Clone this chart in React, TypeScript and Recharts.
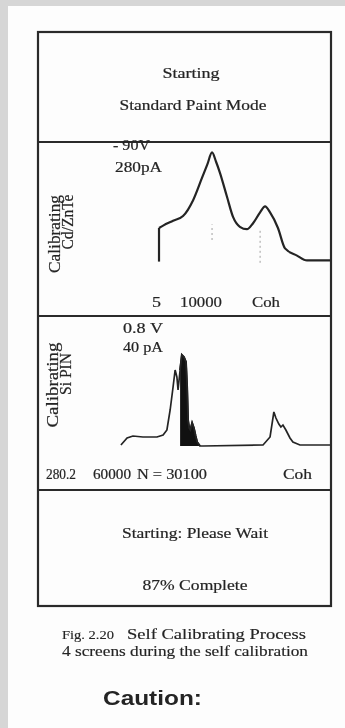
import React from "react";
import { LineChart, ComposedChart, Line, Area, XAxis, YAxis, ReferenceLine } from "recharts";

// Screen 2: Cd/ZnTe calibration spectrum
const cdStepChannels = [413, 413];
const cdStepCounts = [7, 35];
const cdChannels = [413, 427, 461, 495, 529, 560, 578, 594, 608, 621, 645, 666, 689, 713, 734, 758, 775, 792, 819, 843, 884, 918, 1000];
const cdCounts = [35, 37, 41, 45, 58, 77, 88, 98, 90, 81, 61, 44, 36, 34, 39, 48, 53, 48, 35, 18, 12, 8, 8];
const cdPeakChannels = [594, 758];
const cdPeakMarkerLow = [25, 6];
const cdPeakMarkerHigh = [38, 33];
const cdLabels = ["5", "10000", "Coh"];
const cdReadout = ["- 90V", "280pA"];

// Screen 3: Si PIN calibration spectrum
const siChannels = [283, 304, 324, 358, 406, 427, 440, 451, 461, 468, 474, 478, 485, 491, 498, 505, 509, 512, 516, 520, 526, 532, 538, 543, 553, 563, 768, 792, 805, 812, 822, 829, 836, 846, 860, 870, 894, 1000];
const siCounts = [5, 12, 14, 13, 13, 15, 20, 40, 63, 80, 73, 60, 80, 95, 93, 88, 62, 30, 22, 20, 27, 22, 14, 8, 4, 4, 5, 13, 38, 32, 26, 23, 25, 20, 12, 8, 5, 5];
const siDenseChannels = [485, 491, 498, 505, 509, 512, 516, 520, 526, 532, 538, 543, 553];
const siLabels = ["280.2", "60000", "N = 30100", "Coh"];
const siReadout = ["0.8 V", "40 pA"];

const screenTitles = ["Starting", "Standard Paint Mode"];
const waitTexts = ["Starting: Please Wait", "87% Complete"];
const captionFig = "Fig. 2.20";
const captionTitle = "Self Calibrating Process";
const captionSub = "4 screens during the self calibration";
const cautionText = "Caution:";

const cdStepData = cdStepChannels.map((ch, i) => ({ ch, v: cdStepCounts[i] }));
const cdData = cdChannels.map((ch, i) => ({ ch, v: cdCounts[i] }));
const siData = siChannels.map((ch, i) => ({
  ch,
  spec: siCounts[i],
  dense: siDenseChannels.includes(ch) ? siCounts[i] : undefined,
}));

const SERIF = "'Liberation Serif', 'Times New Roman', serif";
const SANS = "'Liberation Sans', Arial, sans-serif";
const INK = "#242424";

type TP = {
  x: number;
  y: number;
  w: number;
  size: number;
  text: string;
  anchor?: "start" | "middle" | "end";
  rot?: boolean;
  weight?: number | string;
  family?: string;
  heavy?: number;
};

function T({ x, y, w, size, text, anchor = "start", rot, weight = 400, family = SERIF, heavy = 0.2 }: TP) {
  const common = {
    fontSize: size,
    fontFamily: family,
    fontWeight: weight,
    fill: INK,
    stroke: INK,
    strokeWidth: heavy,
    textLength: w,
    lengthAdjust: "spacingAndGlyphs" as const,
  };
  if (rot) {
    return (
      <text
        transform={`translate(${x},${y}) rotate(-90)`}
        x={0}
        y={0}
        textAnchor="middle"
        dominantBaseline="central"
        {...common}
      >
        {text}
      </text>
    );
  }
  return (
    <text x={x} y={y} textAnchor={anchor} {...common}>
      {text}
    </text>
  );
}

export default function App() {
  return (
    <div
      style={{
        position: "fixed",
        left: 0,
        top: 0,
        width: 345,
        height: 728,
        background: "#d6d6d6",
        overflow: "hidden",
        filter: "blur(0.4px)",
      }}
    >
      <div style={{ position: "absolute", left: 8, top: 6, width: 337, height: 722, background: "#fdfdfd" }} />

      <div style={{ position: "absolute", left: 38, top: 142 }}>
        <LineChart width={293} height={174} data={cdData} margin={{ top: 8, right: 0, bottom: 46, left: 0 }}>
          <XAxis dataKey="ch" type="number" domain={[0, 1000]} hide allowDataOverflow />
          <YAxis type="number" domain={[0, 100]} hide allowDataOverflow />
          {cdPeakChannels.map((ch, i) => (
            <ReferenceLine
              key={ch}
              segment={[
                { x: ch, y: cdPeakMarkerLow[i] },
                { x: ch, y: cdPeakMarkerHigh[i] },
              ]}
              stroke="#a0a0a0"
              strokeWidth={1}
              strokeDasharray="2 3"
            />
          ))}
          <Line data={cdStepData} dataKey="v" type="linear" stroke={INK} strokeWidth={2.2} dot={false} isAnimationActive={false} />
          <Line data={cdData} dataKey="v" type="monotone" stroke={INK} strokeWidth={2.2} dot={false} isAnimationActive={false} />
        </LineChart>
      </div>

      <div style={{ position: "absolute", left: 38, top: 316 }}>
        <ComposedChart width={293} height={174} data={siData} margin={{ top: 34, right: 0, bottom: 40, left: 0 }}>
          <XAxis dataKey="ch" type="number" domain={[0, 1000]} hide allowDataOverflow />
          <YAxis type="number" domain={[0, 100]} hide allowDataOverflow />
          <Area
            dataKey="dense"
            type="linear"
            baseValue={4}
            stroke="#111"
            strokeWidth={2}
            fill="#111"
            fillOpacity={1}
            isAnimationActive={false}
          />
          <Line dataKey="spec" type="linear" stroke={INK} strokeWidth={1.7} dot={false} isAnimationActive={false} connectNulls />
        </ComposedChart>
      </div>

      <svg width={345} height={728} style={{ position: "absolute", left: 0, top: 0, pointerEvents: "none" }}>
        <rect x={38} y={32} width={293} height={574} fill="none" stroke="#2a2a2a" strokeWidth={2.2} />
        <line x1={38} x2={331} y1={142} y2={142} stroke="#2a2a2a" strokeWidth={2.2} />
        <line x1={38} x2={331} y1={316} y2={316} stroke="#2a2a2a" strokeWidth={2.2} />
        <line x1={38} x2={331} y1={490} y2={490} stroke="#2a2a2a" strokeWidth={2.2} />

        <T x={191} y={78} w={57} size={14} text={screenTitles[0]} anchor="middle" />
        <T x={193} y={110} w={147} size={14} text={screenTitles[1]} anchor="middle" />

        <T x={113} y={150} w={37} size={14} text={cdReadout[0]} />
        <T x={115} y={172} w={47} size={14} text={cdReadout[1]} />
        <T x={54} y={234} w={78} size={16} text="Calibrating" rot />
        <T x={67} y={222} w={55} size={16} text="Cd/ZnTe" rot />
        <T x={152} y={307} w={9} size={15} text={cdLabels[0]} />
        <T x={180} y={307} w={42} size={15} text={cdLabels[1]} />
        <T x={252} y={307} w={28} size={15} text={cdLabels[2]} />

        <T x={123} y={333} w={40} size={14} text={siReadout[0]} />
        <T x={123} y={352} w={40} size={14} text={siReadout[1]} />
        <T x={52} y={385} w={85} size={16} text="Calibrating" rot />
        <T x={65} y={374} w={42} size={16} text="Si PIN" rot />
        <T x={46} y={479} w={30} size={14} text={siLabels[0]} />
        <T x={93} y={479} w={38} size={14} text={siLabels[1]} />
        <T x={137} y={479} w={70} size={14} text={siLabels[2]} />
        <T x={283} y={479} w={29} size={14} text={siLabels[3]} />

        <T x={195} y={538} w={146} size={15} text={waitTexts[0]} anchor="middle" />
        <T x={195} y={590} w={105} size={15} text={waitTexts[1]} anchor="middle" />

        <T x={62} y={639} w={52} size={13} text={captionFig} heavy={0.15} />
        <T x={127} y={639} w={179} size={14} text={captionTitle} heavy={0.15} />
        <T x={62} y={656} w={246} size={14} text={captionSub} heavy={0.15} />

        <T x={103} y={705} w={99} size={21} text={cautionText} weight={700} family={SANS} heavy={0} />
      </svg>
    </div>
  );
}
